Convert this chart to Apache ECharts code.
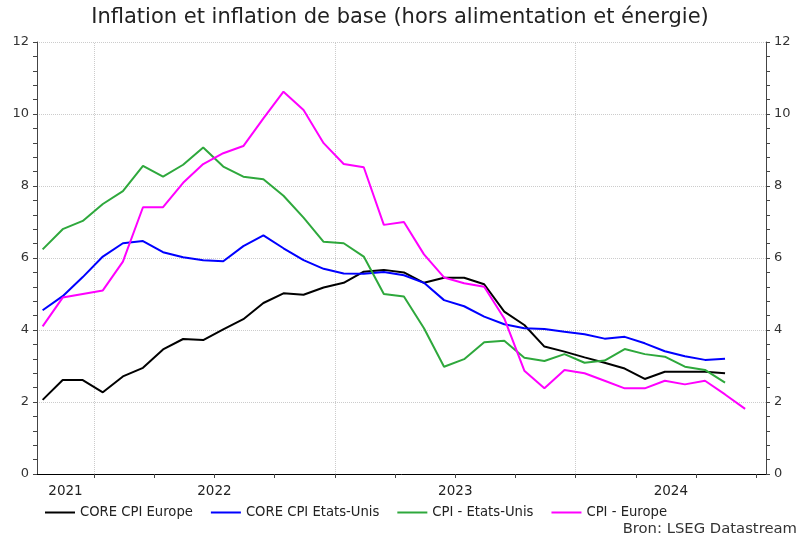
<!DOCTYPE html>
<html>
<head>
<meta charset="utf-8">
<script src="https://cdn.jsdelivr.net/npm/echarts@6/dist/echarts.min.js"></script>
<style>
html,body{margin:0;padding:0;background:#fff;}
#chart{width:800px;height:540px;}
</style>
</head>
<body>
<div id="chart"></div>
<script>
// Monthly data, first month = October 2021 (month index 9 counted from January 2021)
const startMonth = 9;
const seriesNames = ['CORE CPI Europe', 'CORE CPI Etats-Unis', 'CPI - Etats-Unis', 'CPI - Europe'];
const coreEurope = [2.06, 2.61, 2.61, 2.27, 2.71, 2.95, 3.46, 3.75, 3.72, 4.02, 4.30, 4.75,
  5.02, 4.98, 5.18, 5.31, 5.62, 5.67, 5.60, 5.31, 5.45, 5.45, 5.27, 4.51,
  4.14, 3.54, 3.40, 3.24, 3.09, 2.93, 2.64, 2.84, 2.84, 2.84, 2.80];
const coreUS = [4.55, 4.94, 5.47, 6.04, 6.41, 6.47, 6.16, 6.02, 5.94, 5.91, 6.33, 6.63,
  6.27, 5.94, 5.70, 5.57, 5.56, 5.61, 5.52, 5.31, 4.83, 4.66, 4.37, 4.16,
  4.05, 4.03, 3.95, 3.88, 3.76, 3.81, 3.63, 3.41, 3.27, 3.17, 3.20];
const cpiUS = [6.24, 6.80, 7.03, 7.50, 7.86, 8.56, 8.26, 8.59, 9.07, 8.54, 8.26, 8.19,
  7.73, 7.12, 6.45, 6.41, 6.04, 5.00, 4.93, 4.05, 2.98, 3.19, 3.66, 3.70,
  3.23, 3.14, 3.33, 3.09, 3.15, 3.47, 3.33, 3.26, 2.98, 2.89, 2.54];
const cpiEurope = [4.10, 4.90, 5.00, 5.10, 5.90, 7.41, 7.41, 8.09, 8.61, 8.91, 9.11, 9.88,
  10.62, 10.11, 9.19, 8.61, 8.52, 6.92, 7.00, 6.10, 5.46, 5.30, 5.20, 4.32,
  2.87, 2.38, 2.89, 2.80, 2.59, 2.38, 2.38, 2.59, 2.49, 2.59, 2.21, 1.81];
const years = [2021, 2022, 2023, 2024];
const yTicks = [0, 2, 4, 6, 8, 10, 12];

const colors = ['#000000', '#0000ff', '#2ea83c', '#ff00ff'];
const xMin = 9.16, xMax = 45.48;
const dayOffset = 0.44;

function toPoints(arr) {
  return arr.map((v, i) => [startMonth + i + dayOffset, v]);
}
const yearLabelPos = years.map((y, i) => {
  const a = Math.max((y - 2021) * 12, xMin);
  const b = Math.min((y - 2020) * 12, xMax);
  return (a + b) / 2;
});
const quarterTicks = [];
for (let m = 12; m <= xMax; m += 3) quarterTicks.push(m);
const yearLines = years.slice(1).map(y => ({xAxis: (y - 2021) * 12}));

const font = 'DejaVu Sans, Verdana, sans-serif';
const yAxisCommon = {
  type: 'value', min: 0, max: 12, interval: 2,
  axisLine: {show: true, lineStyle: {color: '#444', width: 1}},
  axisTick: {show: true, length: 4, lineStyle: {color: '#444'}},
  minorTick: {show: true, splitNumber: 5, length: 4, lineStyle: {color: '#444'}},
  axisLabel: {fontSize: 13, color: '#333', fontFamily: font, margin: 8,
    formatter: v => yTicks.includes(v) ? String(v) : ''}
};

const allData = [coreEurope, coreUS, cpiUS, cpiEurope];
const series = allData.map((arr, i) => ({
  name: seriesNames[i], type: 'line', data: toPoints(arr),
  showSymbol: false, symbol: 'none',
  lineStyle: {width: 2, color: colors[i]}, itemStyle: {color: colors[i]},
  z: 3 + i
}));
series[0].markLine = {
  silent: true, symbol: 'none', label: {show: false},
  lineStyle: {type: 'dotted', color: '#cccccc', width: 1},
  data: yearLines, z: 1
};

const chart = echarts.init(document.getElementById('chart'), null, {renderer: 'canvas'});
chart.setOption({
  animation: false,
  backgroundColor: '#fff',
  title: [
    {text: 'Inflation et inflation de base (hors alimentation et énergie)', left: 'center', top: 2,
      textStyle: {fontSize: 21, fontWeight: 'normal', color: '#222', fontFamily: font}},
    {text: 'Bron: LSEG Datastream', right: -2, bottom: -2,
      textStyle: {fontSize: 14.8, fontWeight: 'normal', color: '#333', fontFamily: font}}
  ],
  grid: {left: 37, right: 34, top: 42, bottom: 66, containLabel: false},
  legend: {
    data: seriesNames, left: 40, top: 501, itemGap: 18, itemWidth: 30, itemHeight: 2,
    icon: 'rect',
    textStyle: {fontSize: 13.2, color: '#222', fontFamily: font}
  },
  xAxis: {
    type: 'value', min: xMin, max: xMax,
    axisLine: {show: true, lineStyle: {color: '#000', width: 1}},
    axisTick: {show: true, length: 4, customValues: quarterTicks, lineStyle: {color: '#444'}},
    axisLabel: {customValues: yearLabelPos, fontSize: 13.5, color: '#222', fontFamily: font, margin: 10,
      formatter: v => String(2021 + Math.floor(v / 12))},
    splitLine: {show: false}
  },
  yAxis: [
    Object.assign({}, yAxisCommon, {position: 'left',
      splitLine: {show: true, lineStyle: {type: 'dotted', color: '#cccccc', width: 1}}}),
    Object.assign({}, yAxisCommon, {position: 'right', splitLine: {show: false}})
  ],
  series: series
});
</script>
</body>
</html>
